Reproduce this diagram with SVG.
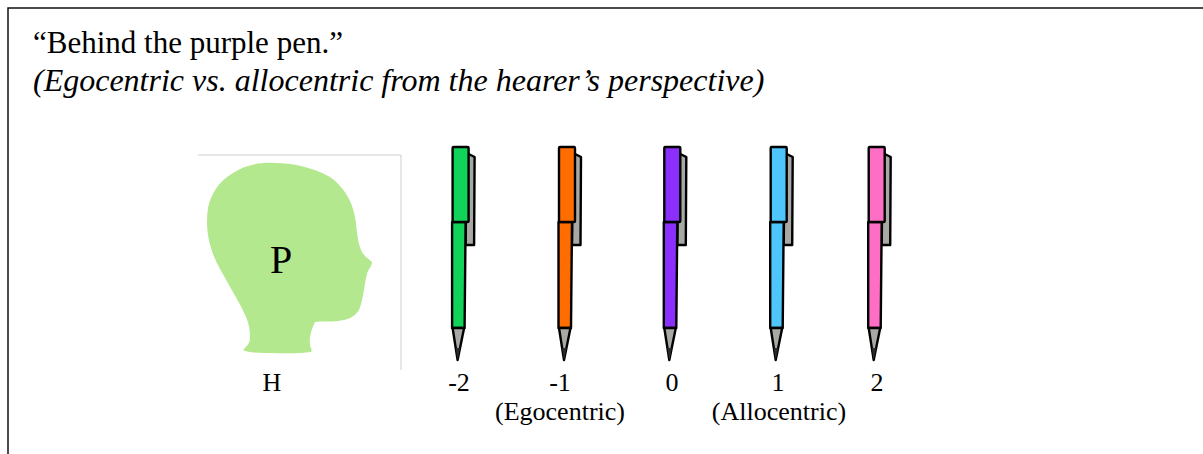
<svg xmlns="http://www.w3.org/2000/svg" xmlns:xlink="http://www.w3.org/1999/xlink" width="1203" height="454" viewBox="0 0 1203 454">
  <style>
    .serif { font-family: "Liberation Serif", "Times New Roman", serif; fill: #000; }
    .title { font-size: 31px; }
    .sub { font-size: 32px; font-style: italic; }
    .lbl { font-size: 26px; text-anchor: middle; }
    .ink { stroke: #000; stroke-width: 2.4; stroke-linejoin: round; }
    .steel { fill: #a8a8a5; }
  </style>
  <defs>
    <!-- pen drawn with its cap centred on x=0, top of cap at y=0; body colour comes from the <use> fill -->
    <symbol id="pen" overflow="visible">
      <polygon class="ink steel" points="6,6 14,10 13.5,98 5,98"/>
      <polygon class="ink" points="-8.5,75 5,75 4,181 -8.5,181"/>
      <polygon class="ink steel" points="-8,181 3.5,181 -3,213"/>
      <polygon fill="#2a2a2a" points="-5,201 -0.5,201 -3,213"/>
      <rect class="ink" x="-8" y="0" width="16" height="75" rx="1"/>
    </symbol>
  </defs>

  <rect width="1203" height="454" fill="#fff"/>
  <!-- outer frame -->
  <path d="M8,454 V8 H1203" fill="none" stroke="#111" stroke-width="1.5"/>

  <text class="serif title" x="33" y="53">“Behind the purple pen.”</text>
  <text class="serif sub" x="33" y="91">(Egocentric vs. allocentric from the hearer’s perspective)</text>

  <!-- hearer's head -->
  <g id="hearer">
    <path d="M198,155 H401 V370" fill="none" stroke="#cfcfcf" stroke-width="1"/>
    <path fill="#b4e88e" d="M233,173 C245,165 260,162 275,163 C292,163 312,167 330,177 C343,186 352,200 355,217 C357,228 357,240 361,250 C364,257 369,259 372,262 C372,267 368,269 367,274 C364,285 364,297 359,310 C354,318 346,320 338,321 C330,322 322,321 315,322 C311,330 309,338 310,344 C310,348 313,350 311,352 C298,354 282,353 265,353 C255,353 247,352 243,350 C247,346 250,343 250,338 C250,330 249,324 246,317 C241,305 235,296 229,285 C222,272 215,262 211,248 C207,235 206,222 208,208 C211,194 218,182 233,173 Z"/>
    <text class="serif" x="281" y="273" font-size="40" text-anchor="middle">P</text>
    <text class="serif lbl" x="272" y="391">H</text>
  </g>

  <!-- pens, left to right -->
  <g id="pen-m2">
    <use xlink:href="#pen" href="#pen" x="460.6" y="147" fill="#12d35a"/>
    <text class="serif lbl" x="459" y="391">-2</text>
  </g>
  <g id="pen-m1">
    <use xlink:href="#pen" href="#pen" x="567" y="147" fill="#ff6d00"/>
    <text class="serif lbl" x="560" y="391">-1</text>
    <text class="serif lbl" x="560" y="420">(Egocentric)</text>
  </g>
  <g id="pen-0">
    <use xlink:href="#pen" href="#pen" x="672.3" y="147" fill="#8b2ffc"/>
    <text class="serif lbl" x="672" y="391">0</text>
  </g>
  <g id="pen-p1">
    <use xlink:href="#pen" href="#pen" x="778.7" y="147" fill="#4fc6fb"/>
    <text class="serif lbl" x="778" y="391">1</text>
    <text class="serif lbl" x="779" y="420">(Allocentric)</text>
  </g>
  <g id="pen-p2">
    <use xlink:href="#pen" href="#pen" x="876.7" y="147" fill="#ff6ec5"/>
    <text class="serif lbl" x="877" y="391">2</text>
  </g>

  <g id="connectors"></g>
</svg>
